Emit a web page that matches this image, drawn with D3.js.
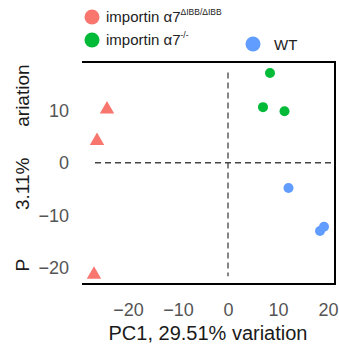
<!DOCTYPE html>
<html>
<head>
<meta charset="utf-8">
<script src="https://cdn.jsdelivr.net/npm/d3@7"></script>
<style>
  body { margin: 0; background: #fff; }
  svg { display: block; font-family: "Liberation Sans", Arial, sans-serif; }
</style>
</head>
<body>
<svg id="chart" width="339" height="348"></svg>
<script>
"use strict";

// groups (legend order) and colours
const groups = ["ko_ibb", "ko", "wt"];
const groupColors = { ko_ibb: "#F8766D", ko: "#00BA38", wt: "#619CFF" };

// PCA scores
const koIbbPC1 = [-24.2, -26.2, -26.8];
const koIbbPC2 = [10.2, 4.2, -21.3];
const koPC1 = [8.4, 7.0, 11.3];
const koPC2 = [17.1, 10.6, 9.8];
const wtPC1 = [12.1, 18.4, 19.2];
const wtPC2 = [-4.8, -13.0, -12.2];

// tick labels
const xTicks = [-20, -10, 0, 10, 20];
const yTicks = [-20, -10, 0, 10];

// y title only partly visible in the original
const yTitleParts = [
  { text: "ariation", at: 12.8 },
  { text: "3.11%", at: -4 },
  { text: "P", at: -19.5 }
];

const svg = d3.select("#chart");

// panel
const panel = { left: 82, right: 335, top: 62, bottom: 284 };

const x = d3.scaleLinear().domain([-29.2, 21.4]).range([panel.left, panel.right]);
const y = d3.scaleLinear().domain([-23.1, 19.2]).range([panel.bottom, panel.top]);

// dashed zero lines
svg.append("line")
  .attr("x1", x(0)).attr("x2", x(0))
  .attr("y1", y(17.2)).attr("y2", y(-21.6))
  .attr("stroke", "#444").attr("stroke-width", 1.3)
  .attr("stroke-dasharray", "6,4");
svg.append("line")
  .attr("x1", x(-26.6)).attr("x2", x(20.6))
  .attr("y1", y(0)).attr("y2", y(0))
  .attr("stroke", "#444").attr("stroke-width", 1.3)
  .attr("stroke-dasharray", "6,4");

// panel border: top, right, bottom
svg.append("path")
  .attr("d", `M${panel.left},${panel.top}H${panel.right}V${panel.bottom}H${panel.left}`)
  .attr("fill", "none").attr("stroke", "#000").attr("stroke-width", 2);

// axes without tick marks
const xAxis = svg.append("g")
  .attr("transform", `translate(0,${panel.bottom + 19})`)
  .call(d3.axisBottom(x).tickValues(xTicks).tickSize(0).tickPadding(0));
xAxis.select(".domain").remove();
xAxis.selectAll("text")
  .attr("font-size", 18).attr("fill", "#555")
  .attr("font-family", "Liberation Sans, Arial, sans-serif");

const yAxis = svg.append("g")
  .attr("transform", `translate(${panel.left - 13},0)`)
  .call(d3.axisLeft(y).tickValues(yTicks).tickSize(0).tickPadding(0));
yAxis.select(".domain").remove();
yAxis.selectAll("text")
  .attr("font-size", 18).attr("fill", "#555")
  .attr("font-family", "Liberation Sans, Arial, sans-serif");

// x title
svg.append("text")
  .attr("x", 208).attr("y", 340)
  .attr("text-anchor", "middle")
  .attr("font-size", 20).attr("fill", "#1a1a1a")
  .text("PC1, 29.51% variation");

// y title fragments
svg.selectAll(".ytitle")
  .data(yTitleParts)
  .enter().append("text")
  .attr("class", "ytitle")
  .attr("text-anchor", "middle")
  .attr("font-size", 19).attr("fill", "#1a1a1a")
  .attr("transform", d => `translate(29,${y(d.at)}) rotate(-90)`)
  .text(d => d.text);

// points
const triangle = d3.symbol().type(d3.symbolTriangle).size(90);

svg.append("g").selectAll("path")
  .data(d3.zip(koIbbPC1, koIbbPC2))
  .enter().append("path")
  .attr("d", triangle)
  .attr("transform", d => `translate(${x(d[0])},${y(d[1])})`)
  .attr("fill", groupColors.ko_ibb);

svg.append("g").selectAll("circle")
  .data(d3.zip(koPC1, koPC2))
  .enter().append("circle")
  .attr("cx", d => x(d[0])).attr("cy", d => y(d[1]))
  .attr("r", 5).attr("fill", groupColors.ko);

svg.append("g").selectAll("circle")
  .data(d3.zip(wtPC1, wtPC2))
  .enter().append("circle")
  .attr("cx", d => x(d[0])).attr("cy", d => y(d[1]))
  .attr("r", 5).attr("fill", groupColors.wt);

// legend
const legend = svg.append("g").attr("font-size", 15).attr("fill", "#222");

legend.append("circle").attr("cx", 92).attr("cy", 17).attr("r", 7.5).attr("fill", groupColors.ko_ibb);
const t1 = legend.append("text").attr("x", 106).attr("y", 22);
t1.append("tspan").text("importin α7");
t1.append("tspan").attr("font-size", 8.5).attr("dy", -7).text("ΔIBB/ΔIBB");

legend.append("circle").attr("cx", 92).attr("cy", 40).attr("r", 7.5).attr("fill", groupColors.ko);
const t2 = legend.append("text").attr("x", 106).attr("y", 45);
t2.append("tspan").text("importin α7");
t2.append("tspan").attr("font-size", 8.5).attr("dy", -7).text("-/-");

legend.append("circle").attr("cx", 253).attr("cy", 44).attr("r", 7.5).attr("fill", groupColors.wt);
legend.append("text").attr("x", 274).attr("y", 50).text("WT");
</script>
</body>
</html>
